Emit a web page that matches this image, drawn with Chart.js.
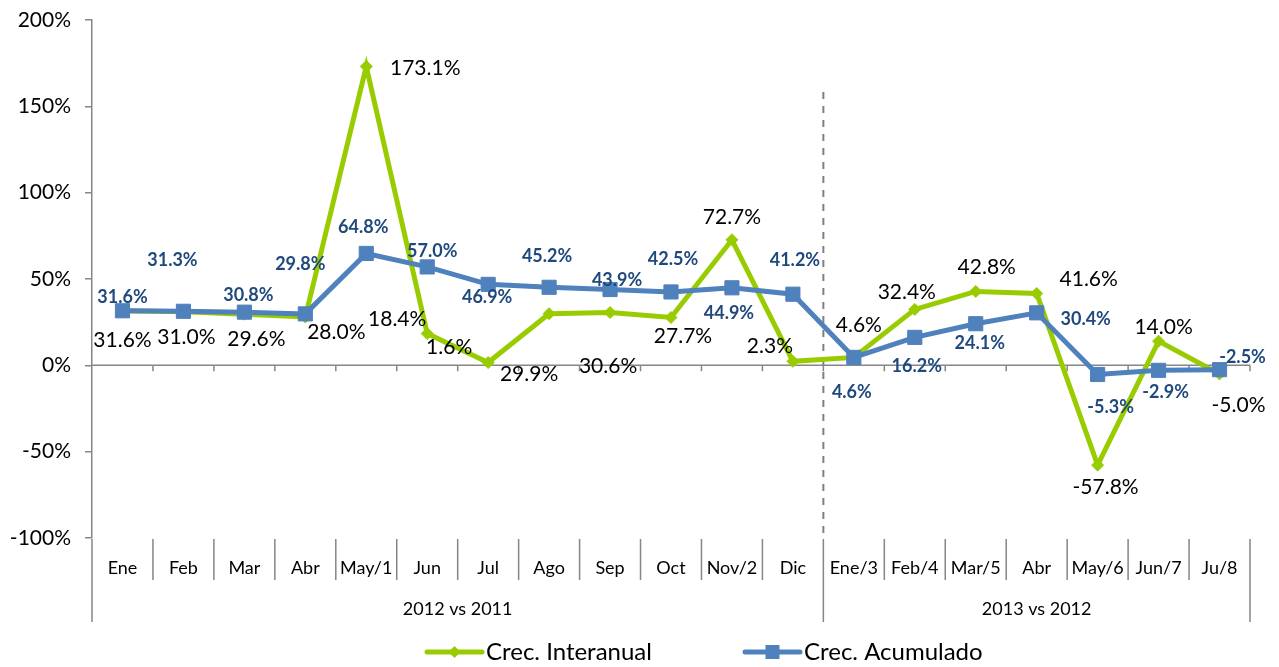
<!DOCTYPE html>
<html>
<head>
<meta charset="utf-8">
<script src="https://cdn.jsdelivr.net/npm/chart.js@4.4.1/dist/chart.umd.min.js"></script>
<style>
html, body { margin: 0; padding: 0; background: #fff; }
#wrap { width: 1279px; height: 667px; }
</style>
</head>
<body>
<div id="wrap"><canvas id="myChart" width="1279" height="667"></canvas></div>
<script>
Chart.defaults.font.family = "Lato, 'Liberation Sans', sans-serif";
Chart.defaults.color = '#000';

const categorias = ['Ene', 'Feb', 'Mar', 'Abr', 'May/1', 'Jun', 'Jul', 'Ago', 'Sep', 'Oct', 'Nov/2', 'Dic',
    'Ene/3', 'Feb/4', 'Mar/5', 'Abr', 'May/6', 'Jun/7', 'Ju/8'];
const interanual = [31.6, 31.0, 29.6, 28.0, 173.1, 18.4, 1.6, 29.9, 30.6, 27.7, 72.7, 2.3,
    4.6, 32.4, 42.8, 41.6, -57.8, 14.0, -5.0];
const acumulado = [31.6, 31.3, 30.8, 29.8, 64.8, 57.0, 46.9, 45.2, 43.9, 42.5, 44.9, 41.2,
    4.6, 16.2, 24.1, 30.4, -5.3, -2.9, -2.5];
const grupos = ['2012 vs 2011', '2013 vs 2012'];
const inicioGrupo = [0, 12];

// desplazamiento de las etiquetas respecto al punto (px)
const offInter = [[0, 29], [3, 25], [12, 25], [31, 15], [59, 2], [-30, -14], [-39, -15], [-20, 61], [-2, 54], [12, 19],
    [0, -23], [-23, -15], [5, -32], [-8, -17], [11, -24], [52, -14], [8, 22], [5, -14], [19, 31]];
const offAcum = [[0, -14], [-11, -51], [4, -17], [-5, -50], [-3, -26], [5, -16], [-1, 13], [-2, -31], [7, -9], [2, -33],
    [-3, 25], [2, -34], [-2, 35], [2, 29], [4, 19], [49, 6], [13, 33], [7, 22], [23, -12]];

const verde = '#99CC00';
const azul = '#4F81BD';
const gris = '#868686';

const decoraciones = {
    id: 'decoraciones',
    beforeDatasetsDraw(chart) {
        const {ctx, chartArea: a, scales: {x, y}} = chart;
        const n = categorias.length;
        const w = (a.right - a.left) / n;
        const borde = (i) => x.getPixelForValue(i) - w / 2;
        const y0 = y.getPixelForValue(0);
        ctx.save();
        ctx.strokeStyle = gris;
        ctx.lineWidth = 1.5;
        ctx.beginPath();
        ctx.moveTo(a.left, y0);
        ctx.lineTo(a.right, y0);
        for (let i = 1; i <= n; i++) {
            ctx.moveTo(borde(i), y0);
            ctx.lineTo(borde(i), y0 + 6);
        }
        // separadores de categorias y grupos
        for (let i = 0; i <= n; i++) {
            const largo = (inicioGrupo.includes(i) || i == n) ? 84 : 42;
            ctx.moveTo(borde(i), a.bottom + 1);
            ctx.lineTo(borde(i), a.bottom + largo);
        }
        ctx.stroke();
        // linea discontinua entre periodos
        ctx.strokeStyle = '#7f7f7f';
        ctx.lineWidth = 2;
        ctx.setLineDash([7, 7]);
        ctx.beginPath();
        ctx.moveTo(borde(inicioGrupo[1]), a.top + 72);
        ctx.lineTo(borde(inicioGrupo[1]), a.bottom);
        ctx.stroke();
        ctx.restore();
    },
    afterDatasetsDraw(chart) {
        const ctx = chart.ctx;
        ctx.save();
        ctx.textAlign = 'center';
        ctx.textBaseline = 'middle';
        chart.data.datasets.forEach((ds, k) => {
            const meta = chart.getDatasetMeta(k);
            const off = ds.label == 'Crec. Interanual' ? offInter : offAcum;
            if (ds.label == 'Crec. Interanual') {
                ctx.font = "21px Lato, 'Liberation Sans', sans-serif";
                ctx.fillStyle = '#000';
            } else {
                ctx.font = "bold 18px Lato, 'Liberation Sans', sans-serif";
                ctx.fillStyle = '#1F497D';
            }
            meta.data.forEach((p, i) => {
                ctx.fillText(ds.data[i].toFixed(1) + '%', p.x + off[i][0], p.y + off[i][1]);
            });
        });
        ctx.restore();
    },
    afterDraw(chart) {
        const {ctx, chartArea: a, scales: {x}} = chart;
        const n = categorias.length;
        const w = (a.right - a.left) / n;
        const borde = (i) => x.getPixelForValue(i) - w / 2;
        ctx.save();
        // etiquetas de grupo
        ctx.font = "18px Lato, 'Liberation Sans', sans-serif";
        ctx.fillStyle = '#000';
        ctx.textAlign = 'center';
        ctx.textBaseline = 'middle';
        grupos.forEach((g, k) => {
            const fin = k + 1 < inicioGrupo.length ? inicioGrupo[k + 1] : n;
            ctx.fillText(g, (borde(inicioGrupo[k]) + borde(fin)) / 2, 609);
        });
        // leyenda
        const items = [
            {x: 427, label: 'Crec. Interanual', color: verde, forma: 'rombo'},
            {x: 745, label: 'Crec. Acumulado', color: azul, forma: 'cuadro'},
        ];
        const ly = 652;
        items.forEach(it => {
            ctx.strokeStyle = it.color;
            ctx.fillStyle = it.color;
            ctx.lineWidth = 5;
            ctx.lineCap = 'round';
            ctx.beginPath();
            ctx.moveTo(it.x, ly);
            ctx.lineTo(it.x + 55, ly);
            ctx.stroke();
            const cx = it.x + 27.5;
            ctx.beginPath();
            if (it.forma == 'rombo') {
                ctx.moveTo(cx - 6, ly); ctx.lineTo(cx, ly - 6); ctx.lineTo(cx + 6, ly); ctx.lineTo(cx, ly + 6);
            } else {
                ctx.rect(cx - 7, ly - 7, 14, 14);
            }
            ctx.fill();
            ctx.fillStyle = '#000';
            ctx.font = "24px Lato, 'Liberation Sans', sans-serif";
            ctx.textAlign = 'left';
            ctx.fillText(it.label, it.x + 59, ly);
        });
        ctx.restore();
    }
};

new Chart(document.getElementById('myChart'), {
    type: 'line',
    data: {
        labels: categorias,
        datasets: [{
            label: 'Crec. Interanual',
            data: interanual,
            borderColor: verde,
            backgroundColor: verde,
            borderWidth: 5,
            pointStyle: 'rectRot',
            pointRadius: 6,
            pointBorderWidth: 1,
            tension: 0,
            order: 1,
        }, {
            label: 'Crec. Acumulado',
            data: acumulado,
            borderColor: azul,
            backgroundColor: azul,
            borderWidth: 5,
            pointStyle: 'rect',
            pointRadius: 10,
            pointBorderWidth: 1,
            tension: 0,
            order: 0,
        }]
    },
    options: {
        responsive: false,
        animation: false,
        layout: {padding: {top: 20, right: 29, left: 0, bottom: 0}},
        plugins: {
            legend: {display: false},
            tooltip: {enabled: false},
        },
        scales: {
            x: {
                offset: true,
                grid: {display: false, drawTicks: false, tickLength: 0},
                border: {display: false},
                ticks: {
                    autoSkip: false,
                    maxRotation: 0,
                    padding: 19,
                    font: {size: 18},
                    color: '#000',
                },
                afterFit: (s) => { s.height = 129; s.paddingLeft = 0; s.paddingRight = 0; },
            },
            y: {
                min: -100,
                max: 200,
                grid: {display: true, drawOnChartArea: false, drawTicks: true, tickLength: 7, color: gris, lineWidth: 1.5},
                border: {display: true, color: gris, width: 1.5},
                ticks: {
                    stepSize: 50,
                    padding: 14,
                    font: {size: 21},
                    color: '#000',
                    callback: (v) => v + '%',
                },
                afterFit: (s) => { s.width = 92; s.paddingTop = 0; s.paddingBottom = 0; },
            }
        }
    },
    plugins: [decoraciones]
});
</script>
</body>
</html>
